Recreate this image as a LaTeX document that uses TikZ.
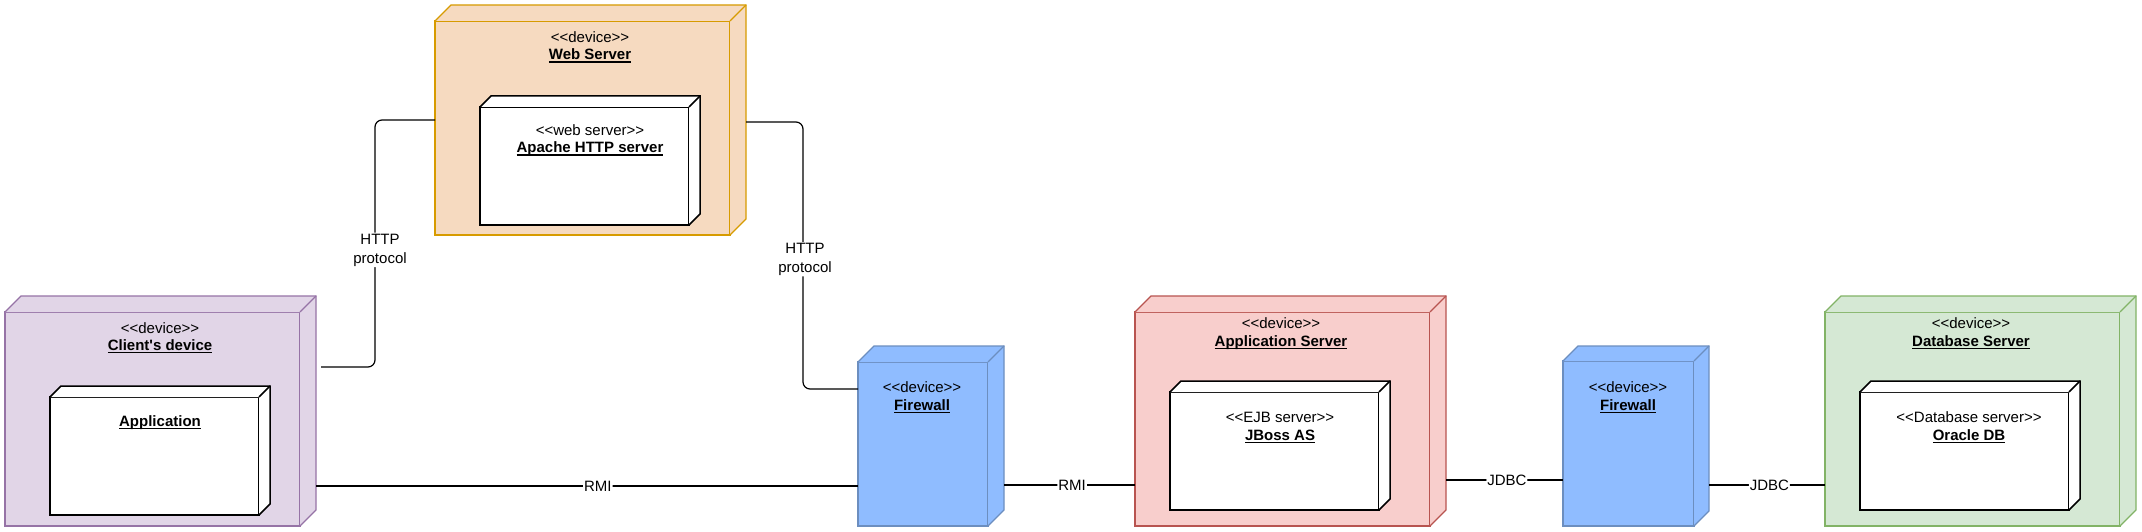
\documentclass[tikz,border=0pt]{standalone}
\usepackage{fontspec}
\setmainfont{Liberation Sans}
\usetikzlibrary{calc}
\definecolor{purpfill}{HTML}{E1D5E7}
\definecolor{purpline}{HTML}{9673A6}
\definecolor{orgfill}{HTML}{F6DAC0}
\definecolor{orgline}{HTML}{D79B00}
\definecolor{redfill}{HTML}{F8CECC}
\definecolor{redline}{HTML}{B85450}
\definecolor{bluefill}{HTML}{8FBCFF}
\definecolor{blueline}{HTML}{6C8EBF}
\definecolor{grnfill}{HTML}{D5E8D4}
\definecolor{grnline}{HTML}{82B366}
\newcommand\ulx[1]{\setbox0\hbox{#1}\rlap{\rule[-2.6pt]{\wd0}{1.1pt}}\box0}
\newcommand\mkcube[4]{%
  \fill[#3] (#1.north west) -- ++(#2pt,#2pt) -- ([shift={(#2pt,#2pt)}]#1.north east)
     -- ([shift={(#2pt,#2pt)}]#1.south east) -- (#1.south east) -- (#1.north east) -- cycle;
  \draw[#4] (#1.north west) -- ++(#2pt,#2pt) -- ([shift={(#2pt,#2pt)}]#1.north east)
     -- ([shift={(#2pt,#2pt)}]#1.south east) -- (#1.south east);
  \draw[#4] (#1.north east) -- ++(#2pt,#2pt);
}
\tikzset{
  devbox/.style={anchor=north west, inner sep=0pt, outer sep=0pt, line width=1.2pt, line join=miter},
  outerline/.style={line width=1.2pt, line join=miter},
  innerline/.style={line width=1.5pt, line join=miter, draw=black},
  lbl/.style={anchor=base, inner sep=0pt, font=\fontsize{15}{18}\selectfont},
  elbl/.style={fill=white, inner sep=1pt, font=\fontsize{15}{19}\selectfont},
  conn/.style={draw=black, line width=1.2pt, rounded corners=7pt},
}
\begin{document}
\begin{tikzpicture}[x=1pt,y=-1pt]
\useasboundingbox (0,0) rectangle (2142,532);
\fill[white] (0,0) rectangle (2142,532);

% outer devices
\node[devbox, draw=purpline, fill=purpfill, minimum width=295pt, minimum height=214pt] (client) at (5,312) {};
\mkcube{client}{16}{purpfill}{outerline,draw=purpline}
\node[devbox, draw=orgline, fill=orgfill, minimum width=295pt, minimum height=214pt] (web) at (435,21) {};
\mkcube{web}{16}{orgfill}{outerline,draw=orgline}
\node[devbox, draw=blueline, fill=bluefill, minimum width=130pt, minimum height=164pt] (fw1) at (858,362) {};
\mkcube{fw1}{16}{bluefill}{outerline,draw=blueline}
\node[devbox, draw=redline, fill=redfill, minimum width=295pt, minimum height=214pt] (appsrv) at (1135,312) {};
\mkcube{appsrv}{16}{redfill}{outerline,draw=redline}
\node[devbox, draw=blueline, fill=bluefill, minimum width=131pt, minimum height=165pt] (fw2) at (1563,361) {};
\mkcube{fw2}{15}{bluefill}{outerline,draw=blueline}
\node[devbox, draw=grnline, fill=grnfill, minimum width=295pt, minimum height=214pt] (db) at (1825,312) {};
\mkcube{db}{16}{grnfill}{outerline,draw=grnline}

% inner components
\node[devbox, line width=1.5pt, draw=black, fill=white, minimum width=209pt, minimum height=118pt] (capp) at (50,397) {};
\mkcube{capp}{11}{white}{innerline}
\node[devbox, line width=1.5pt, draw=black, fill=white, minimum width=209pt, minimum height=118pt] (apache) at (480,107) {};
\mkcube{apache}{11}{white}{innerline}
\node[devbox, line width=1.5pt, draw=black, fill=white, minimum width=209pt, minimum height=118pt] (jboss) at (1170,392) {};
\mkcube{jboss}{11}{white}{innerline}
\node[devbox, line width=1.5pt, draw=black, fill=white, minimum width=209pt, minimum height=118pt] (oracle) at (1860,392) {};
\mkcube{oracle}{11}{white}{innerline}

% texts
\node[lbl] (clientst) at (160,333) {{<}{<}device{>}{>}};
\node[lbl] (clientnm) at (160,350) {\ulx{\textbf{Client\textquotesingle s device}}};
\node[lbl] (cappnm) at (160,426) {\ulx{\textbf{Application}}};
\node[lbl] (webst) at (590,43) {{<}{<}device{>}{>}};
\node[lbl] (webnm) at (590,60) {\ulx{\textbf{Web Server}}};
\node[lbl] (apachest) at (590,136) {{<}{<}web server{>}{>}};
\node[lbl] (apachenm) at (590,153) {\ulx{\textbf{Apache HTTP server}}};
\node[lbl] (fwast) at (922,392) {{<}{<}device{>}{>}};
\node[lbl] (fwanm) at (922,410) {\ulx{\textbf{Firewall}}};
\node[lbl] (appst) at (1281,328) {{<}{<}device{>}{>}};
\node[lbl] (appnm) at (1281,346) {\ulx{\textbf{Application Server}}};
\node[lbl] (jbossst) at (1280,422) {{<}{<}EJB server{>}{>}};
\node[lbl] (jbossnm) at (1280,440) {\ulx{\textbf{JBoss AS}}};
\node[lbl] (fwbst) at (1628,392) {{<}{<}device{>}{>}};
\node[lbl] (fwbnm) at (1628,410) {\ulx{\textbf{Firewall}}};
\node[lbl] (dbst) at (1971,328) {{<}{<}device{>}{>}};
\node[lbl] (dbnm) at (1971,346) {\ulx{\textbf{Database Server}}};
\node[lbl] (orast) at (1969,422) {{<}{<}Database server{>}{>}};
\node[lbl] (oranm) at (1969,440) {\ulx{\textbf{Oracle DB}}};

% connectors
\draw[conn] ([xshift=21pt]client.east |- 0,367) -| node[elbl, align=center, pos=0.737, xshift=5pt] {HTTP\\protocol} (375,120) -- (web.west |- 0,120);
\draw[conn] ([xshift=16pt]web.east |- 0,122) -| node[elbl, align=center, pos=0.757, xshift=2pt] {HTTP\\protocol} (803,389) -- (fw1.west |- 0,389);
\draw[conn] ([xshift=16pt]client.east |- 0,486) -- node[elbl, pos=0.52] {RMI} (fw1.west |- 0,486);
\draw[conn] ([xshift=16pt]fw1.east |- 0,485) -- node[elbl, pos=0.52] {RMI} (appsrv.west |- 0,485);
\draw[conn] ([xshift=16pt]appsrv.east |- 0,480) -- node[elbl, pos=0.52] {JDBC} (fw2.west |- 0,480);
\draw[conn] ([xshift=15pt]fw2.east |- 0,485) -- node[elbl, pos=0.52] {JDBC} (db.west |- 0,485);
\end{tikzpicture}
\end{document}
